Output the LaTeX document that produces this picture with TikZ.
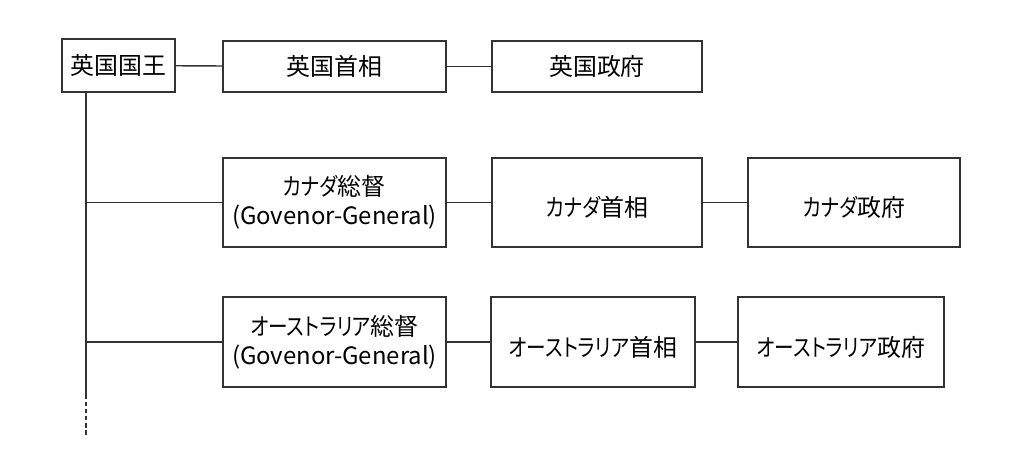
\documentclass[tikz,border=0pt]{standalone}
\usepackage{fontspec}
\setmainfont[RawFeature=+palt]{Noto Sans CJK JP}
\newfontfamily\kana[RawFeature=+palt, FakeStretch=0.82]{Noto Sans CJK JP}

\tikzset{
  box/.style={draw=black!80, line width=0.8pt, inner sep=0pt, align=center,
    font=\fontsize{13.6}{16.5}\selectfont},
  lowbox/.style={box, execute at begin node={\rule{0pt}{0.6cm}}},
  link/.style={draw=black!80, line width=0.8pt}
}

\begin{document}
\begin{tikzpicture}
\useasboundingbox (0,0) rectangle (20.48,-9.18);
% top row
\node[box, minimum width=2.26cm, minimum height=1.06cm] (king) at (2.37,-1.31) {英国国王};
\node[box, minimum width=4.46cm, minimum height=1.02cm] (ukpm) at (6.69,-1.33) {英国首相};
\node[box, minimum width=4.2cm, minimum height=1.02cm] (ukgov) at (11.94,-1.33) {英国政府};
% canada
\node[lowbox, minimum width=4.46cm, minimum height=1.78cm] (cagg) at (6.69,-4.05) {{\kana カナダ}総督\\(Govenor-General)};
\node[lowbox, minimum width=4.2cm, minimum height=1.78cm] (capm) at (11.94,-4.05) {{\kana カナダ}首相};
\node[lowbox, minimum width=4.24cm, minimum height=1.78cm] (cagov) at (17.08,-4.05) {{\kana カナダ}政府};
% australia
\node[lowbox, minimum width=4.46cm, minimum height=1.8cm] (augg) at (6.69,-6.84) {{\kana オーストラリア}総督\\(Govenor-General)};
\node[lowbox, minimum width=4.08cm, minimum height=1.8cm] (aupm) at (11.86,-6.84) {{\kana オーストラリア}首相};
\node[lowbox, minimum width=4.12cm, minimum height=1.8cm] (augov) at (16.82,-6.84) {{\kana オーストラリア}政府};
% trunk
\coordinate (trunk) at (1.72,-1.84);
\coordinate (trunkend) at (1.72,-7.9);
\coordinate (more) at (1.72,-8.7);
\draw[link] (trunk) -- (trunkend);
\draw[link, dash pattern=on 2.5pt off 1.5pt] (trunkend) -- (more);
% links
\draw[link] (king) -- (ukpm);
\draw[link] (ukpm) -- (ukgov);
\draw[link] (cagg.west -| trunk) -- (cagg);
\draw[link] (cagg) -- (capm);
\draw[link] (capm) -- (cagov);
\draw[link] (augg.west -| trunk) -- (augg);
\draw[link] (augg) -- (aupm);
\draw[link] (aupm) -- (augov);
\end{tikzpicture}
\end{document}
